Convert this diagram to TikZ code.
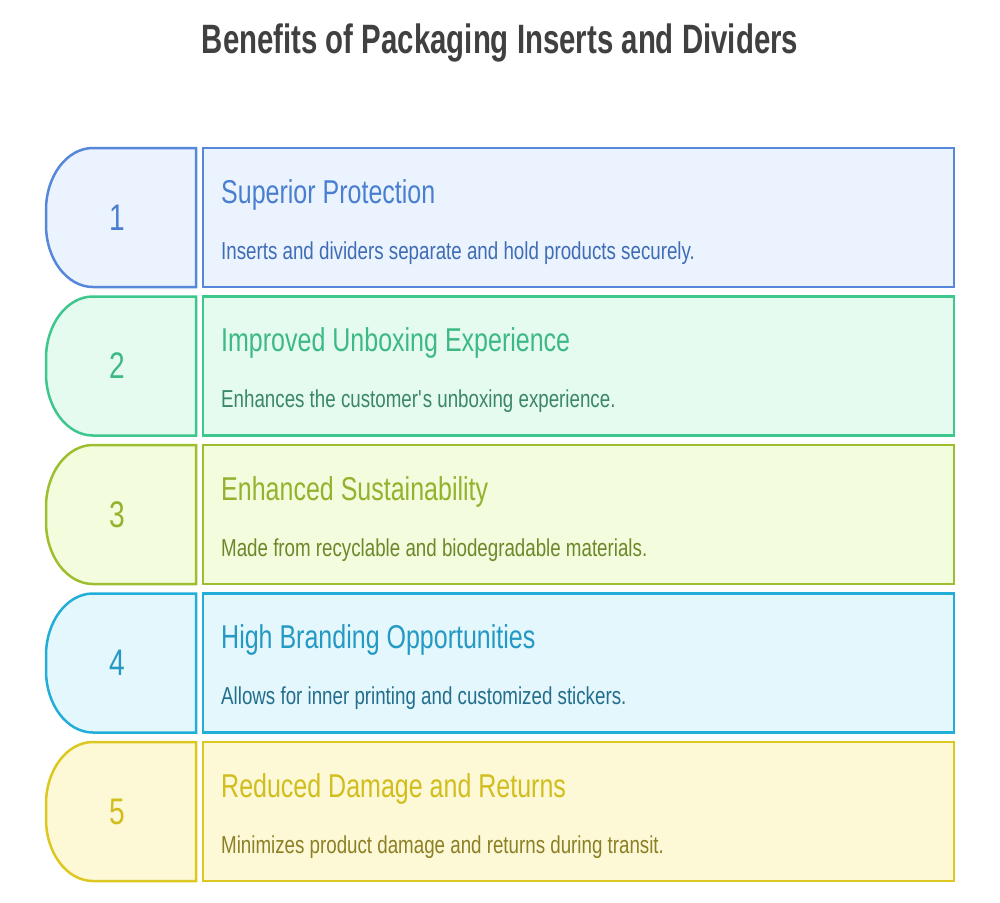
\documentclass[tikz,border=0pt]{standalone}
\usepackage{fontspec}
\setmainfont{Liberation Sans}[FakeStretch=0.76]
\newfontfamily\titlefont{Liberation Sans}[FakeStretch=0.717]
\newfontfamily\headfont{Liberation Sans}[FakeStretch=0.758]
\newfontfamily\descfont{Liberation Sans}[FakeStretch=0.765]
\definecolor{sA}{HTML}{5588DA}\definecolor{fA}{HTML}{EBF3FE}\definecolor{hA}{HTML}{4A7FD0}\definecolor{dA}{HTML}{3F6DB5}
\definecolor{sB}{HTML}{3EC78C}\definecolor{fB}{HTML}{E5FBEF}\definecolor{hB}{HTML}{3DB985}\definecolor{dB}{HTML}{3A8767}
\definecolor{sC}{HTML}{9DBF2F}\definecolor{fC}{HTML}{F3FCDD}\definecolor{hC}{HTML}{93B22E}\definecolor{dC}{HTML}{6D8829}
\definecolor{sD}{HTML}{22AED8}\definecolor{fD}{HTML}{E4F7FD}\definecolor{hD}{HTML}{2399C4}\definecolor{dD}{HTML}{236E8D}
\definecolor{sE}{HTML}{DCC820}\definecolor{fE}{HTML}{FDF9D6}\definecolor{hE}{HTML}{D2BD1E}\definecolor{dE}{HTML}{8C7F25}
\definecolor{titlecol}{HTML}{404040}
\tikzset{
  box/.style={line width=2.5pt},
  heading/.style={anchor=base west, inner sep=0pt, font=\headfont\fontsize{33}{38}\selectfont},
  desc/.style={anchor=base west, inner sep=0pt, font=\descfont\fontsize{24.5}{29}\selectfont},
  num/.style={anchor=center, inner sep=0pt, font=\fontsize{37}{42}\selectfont},
}
\newcommand{\benefitrow}[7]{%
  % #1 top, #2 stroke, #3 fill, #4 heading color, #5 desc color, #6 number, #7 name
  \draw[box, draw=#2, fill=#3] (196,#1) -- (93,#1)
     arc[start angle=90, end angle=180, x radius=47pt, y radius=62pt]
     -- ++(0,15)
     arc[start angle=180, end angle=270, x radius=47pt, y radius=62pt]
     -- (196,#1+139) -- cycle;
  \draw[box, draw=#2, fill=#3] (203,#1) rectangle (954,#1+139);
  \node[num, text=#4] (n#7) at (117,#1+69.5) {#6};
}
\begin{document}
\begin{tikzpicture}[x=1pt,y=-1pt]
\useasboundingbox (0,0) rectangle (1000,902);
\node[anchor=base, inner sep=0pt, text=titlecol, font=\titlefont\bfseries\fontsize{41}{47}\selectfont] (title) at (500,53) {Benefits of Packaging Inserts and Dividers};
\benefitrow{148}{sA}{fA}{hA}{dA}{1}{a}
\node[heading, text=hA] (ha) at (221,203) {Superior Protection};
\node[desc, text=dA] (da) at (221,259) {Inserts and dividers separate and hold products securely.};
\benefitrow{296.5}{sB}{fB}{hB}{dB}{2}{b}
\node[heading, text=hB] (hb) at (221,351.5) {Improved Unboxing Experience};
\node[desc, text=dB] (db) at (221,407.5) {Enhances the customer\textquotesingle s unboxing experience.};
\benefitrow{445}{sC}{fC}{hC}{dC}{3}{c}
\node[heading, text=hC] (hc) at (221,500) {Enhanced Sustainability};
\node[desc, text=dC] (dc) at (221,556) {Made from recyclable and biodegradable materials.};
\benefitrow{593.5}{sD}{fD}{hD}{dD}{4}{d}
\node[heading, text=hD] (hd) at (221,648.5) {High Branding Opportunities};
\node[desc, text=dD] (dd) at (221,704.5) {Allows for inner printing and customized stickers.};
\benefitrow{742}{sE}{fE}{hE}{dE}{5}{e}
\node[heading, text=hE] (he) at (221,797) {Reduced Damage and Returns};
\node[desc, text=dE] (de) at (221,853) {Minimizes product damage and returns during transit.};
\end{tikzpicture}
\end{document}
